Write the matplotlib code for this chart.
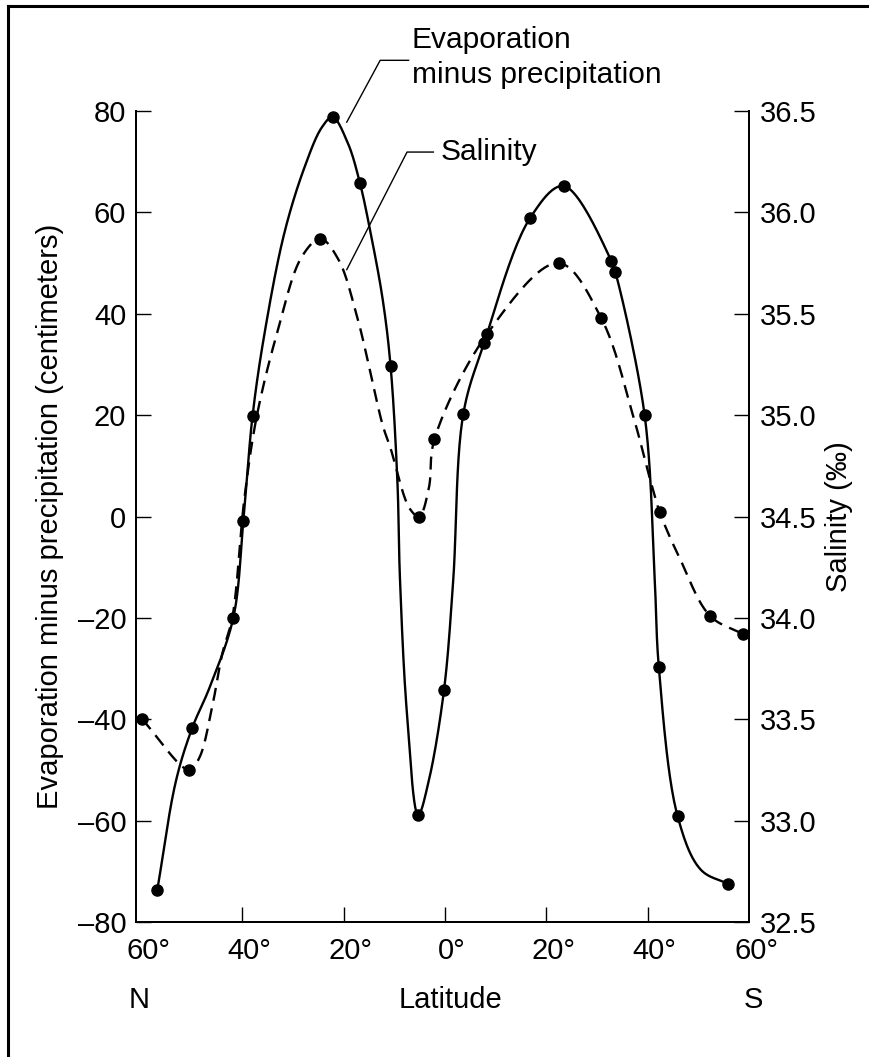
import numpy as np
import matplotlib
matplotlib.use('Agg')
import matplotlib.pyplot as plt
from matplotlib.lines import Line2D
from matplotlib.transforms import ScaledTranslation

plt.rcParams['font.family'] = ['Liberation Sans', 'DejaVu Sans']
plt.rcParams['axes.unicode_minus'] = False

# latitude: north negative, south positive (degrees)
# evaporation minus precipitation (cm) - curve knots and whether each knot has a dot
ep_lat = [-56.8, -53.1, -49.9, -46.5, -41.8, -39.8, -38.0, -35.6, -31.7, -27.7, -24.3,
          -22.2, -19.2, -16.8, -14.7, -12.3, -10.75, -9.4, -8.9, -7.5, -5.3, -3.2,
          -0.2, 1.6, 3.6, 7.7, 16.8, 23.4, 32.8, 33.6, 39.4, 41.4, 42.2, 45.9, 50.5, 55.9]
ep_val = [-73.7, -52.1, -41.7, -33.8, -20.0, -0.8, 19.8, 36.3, 56.0, 69.0, 76.8,
          78.8, 73.7, 65.8, 56.0, 42.8, 29.7, 6.9, -12.2, -39.1, -58.9, -52.1,
          -34.2, -12.8, 20.2, 34.2, 58.9, 65.2, 50.5, 48.3, 20.0, -12.8, -29.7, -59.1, -69.7, -72.5]
ep_dot = [1, 0, 1, 0, 1, 1, 1, 0, 0, 0, 0,
          1, 0, 1, 0, 0, 1, 0, 0, 0, 1, 0,
          1, 0, 1, 1, 1, 1, 1, 1, 1, 0, 1, 1, 0, 1]

# salinity (per mille) - curve knots and dots
sal_lat = [-59.8, -50.5, -48.5, -45.9, -44.0, -42.0, -39.6, -37.2, -33.1, -28.3,
           -24.6, -21.1, -17.4, -12.3, -10.8, -7.0, -5.1, -3.2, -2.1, 8.3, 22.4,
           30.8, 37.2, 40.4, 42.4, 46.4, 52.3, 58.8]
sal_val = [33.50, 33.25, 33.31, 33.57, 33.82, 34.00, 34.59, 34.99, 35.41, 35.78,
           35.87, 35.77, 35.49, 34.95, 34.84, 34.54, 34.50, 34.64, 34.88, 35.40, 35.75,
           35.48, 34.99, 34.69, 34.52, 34.29, 34.01, 33.92]
sal_dot = [1, 1, 0, 0, 0, 0, 0, 0, 0, 0,
           1, 0, 0, 0, 0, 0, 1, 0, 1, 1, 1,
           1, 0, 0, 1, 0, 1, 1]

xtick_pos = [-60, -40, -20, 0, 20, 40, 60]
xtick_lab = ['60°', '40°', '20°', '0°', '20°', '40°', '60°']
ep_ticks = [-80, -60, -40, -20, 0, 20, 40, 60, 80]
sal_ticks = [32.5, 33.0, 33.5, 34.0, 34.5, 35.0, 35.5, 36.0, 36.5]


def catmull_rom(xs, ys, n=25, alpha=0.5):
    P = np.column_stack([xs, ys]).astype(float)
    P = np.vstack([2 * P[0] - P[1], P, 2 * P[-1] - P[-2]])
    pts = []
    for i in range(len(P) - 3):
        p0, p1, p2, p3 = P[i:i + 4]
        t0 = 0.0
        t1 = t0 + np.linalg.norm(p1 - p0) ** alpha
        t2 = t1 + np.linalg.norm(p2 - p1) ** alpha
        t3 = t2 + np.linalg.norm(p3 - p2) ** alpha
        t = np.linspace(t1, t2, n)[:, None]
        a1 = (t1 - t) / (t1 - t0) * p0 + (t - t0) / (t1 - t0) * p1
        a2 = (t2 - t) / (t2 - t1) * p1 + (t - t1) / (t2 - t1) * p2
        a3 = (t3 - t) / (t3 - t2) * p2 + (t - t2) / (t3 - t2) * p3
        b1 = (t2 - t) / (t2 - t0) * a1 + (t - t0) / (t2 - t0) * a2
        b2 = (t3 - t) / (t3 - t1) * a2 + (t - t1) / (t3 - t1) * a3
        c = (t2 - t) / (t2 - t1) * b1 + (t - t1) / (t2 - t1) * b2
        pts.append(c if i == 0 else c[1:])
    pts = np.vstack(pts)
    return pts[:, 0], pts[:, 1]


fig = plt.figure(figsize=(8.69, 10.57), dpi=100)
ax = fig.add_axes([136 / 869, 1 - 922 / 1057, 613 / 869, 811 / 1057])
ax2 = ax.twinx()

# salinity scaled so that 34.5 sits on 0 of the left axis (1 per mille = 40 cm)
sal_e = [(s - 34.5) * 40 for s in sal_val]

x, y = catmull_rom(ep_lat, ep_val)
ax.plot(x, y, color='black', lw=1.7, solid_capstyle='round')
x, y = catmull_rom(sal_lat, sal_e)
ax.plot(x, y, color='black', lw=1.7, linestyle=(0, (5.5, 3.3)))

ax.plot([a for a, d in zip(ep_lat, ep_dot) if d], [v for v, d in zip(ep_val, ep_dot) if d],
        'o', color='black', ms=8, clip_on=False)
ax.plot([a for a, d in zip(sal_lat, sal_dot) if d], [v for v, d in zip(sal_e, sal_dot) if d],
        'o', color='black', ms=8, clip_on=False)

ax.set_xlim(-61, 60)
ax.set_ylim(-80, 80)
ax2.set_ylim(32.5, 36.5)

ax.set_xticks(xtick_pos)
ax.set_xticklabels(xtick_lab)
ax.set_yticks(ep_ticks)
ax.set_yticklabels([str(v).replace('-', '–') for v in ep_ticks])
ax2.set_yticks(sal_ticks)
ax2.set_yticklabels(['%.1f' % v for v in sal_ticks])

for a in (ax, ax2):
    a.spines['top'].set_visible(False)
    for s in ('left', 'right', 'bottom'):
        a.spines[s].set_linewidth(1.4)
ax.tick_params(axis='both', direction='in', length=11, width=1.0, labelsize=21, pad=7)
ax.tick_params(axis='x', pad=11)
ax2.tick_params(axis='y', direction='in', length=11, width=1.0, labelsize=21, pad=8)
xt = ax.xaxis.get_major_ticks()
xt[0].tick1line.set_visible(False)
xt[-1].tick1line.set_visible(False)
# digits sit on the tick, the degree sign hangs to the right
shift = ScaledTranslation(7 / 100, 0, fig.dpi_scale_trans)
for lab in ax.get_xticklabels():
    lab.set_transform(lab.get_transform() + shift)

ax.set_ylabel('Evaporation minus precipitation (centimeters)', fontsize=21, labelpad=10)
ax2.set_ylabel('Salinity (‰)', fontsize=21, labelpad=6)

# leader lines and labels
ax.plot([-19.4, -12.8, -7.2], [77.8, 90.0, 90.0], color='black', lw=1.0, clip_on=False)
ax.text(-6.6, 90.6, 'Evaporation\nminus precipitation', fontsize=21.5, ha='left', va='center',
        linespacing=1.3)
ax.plot([-19.4, -7.5, -2.3], [48.7, 71.9, 71.9], color='black', lw=1.0, clip_on=False)
ax.text(-0.9, 71.9, 'Salinity', fontsize=21.5, ha='left', va='center')

fig.text(139 / 869, 1 - 1000 / 1057, 'N', fontsize=21, ha='center', va='center')
fig.text(450 / 869, 1 - 1000 / 1057, 'Latitude', fontsize=21, ha='center', va='center')
fig.text(753 / 869, 1 - 1000 / 1057, 'S', fontsize=21, ha='center', va='center')

# frame of the figure panel
fig.add_artist(Line2D([8 / 869, 8 / 869], [0, 1 - 6 / 1057], color='black', lw=2.2))
fig.add_artist(Line2D([8 / 869, 1], [1 - 6 / 1057, 1 - 6 / 1057], color='black', lw=2.2))

fig.savefig('out.png', dpi=100, facecolor='white')
